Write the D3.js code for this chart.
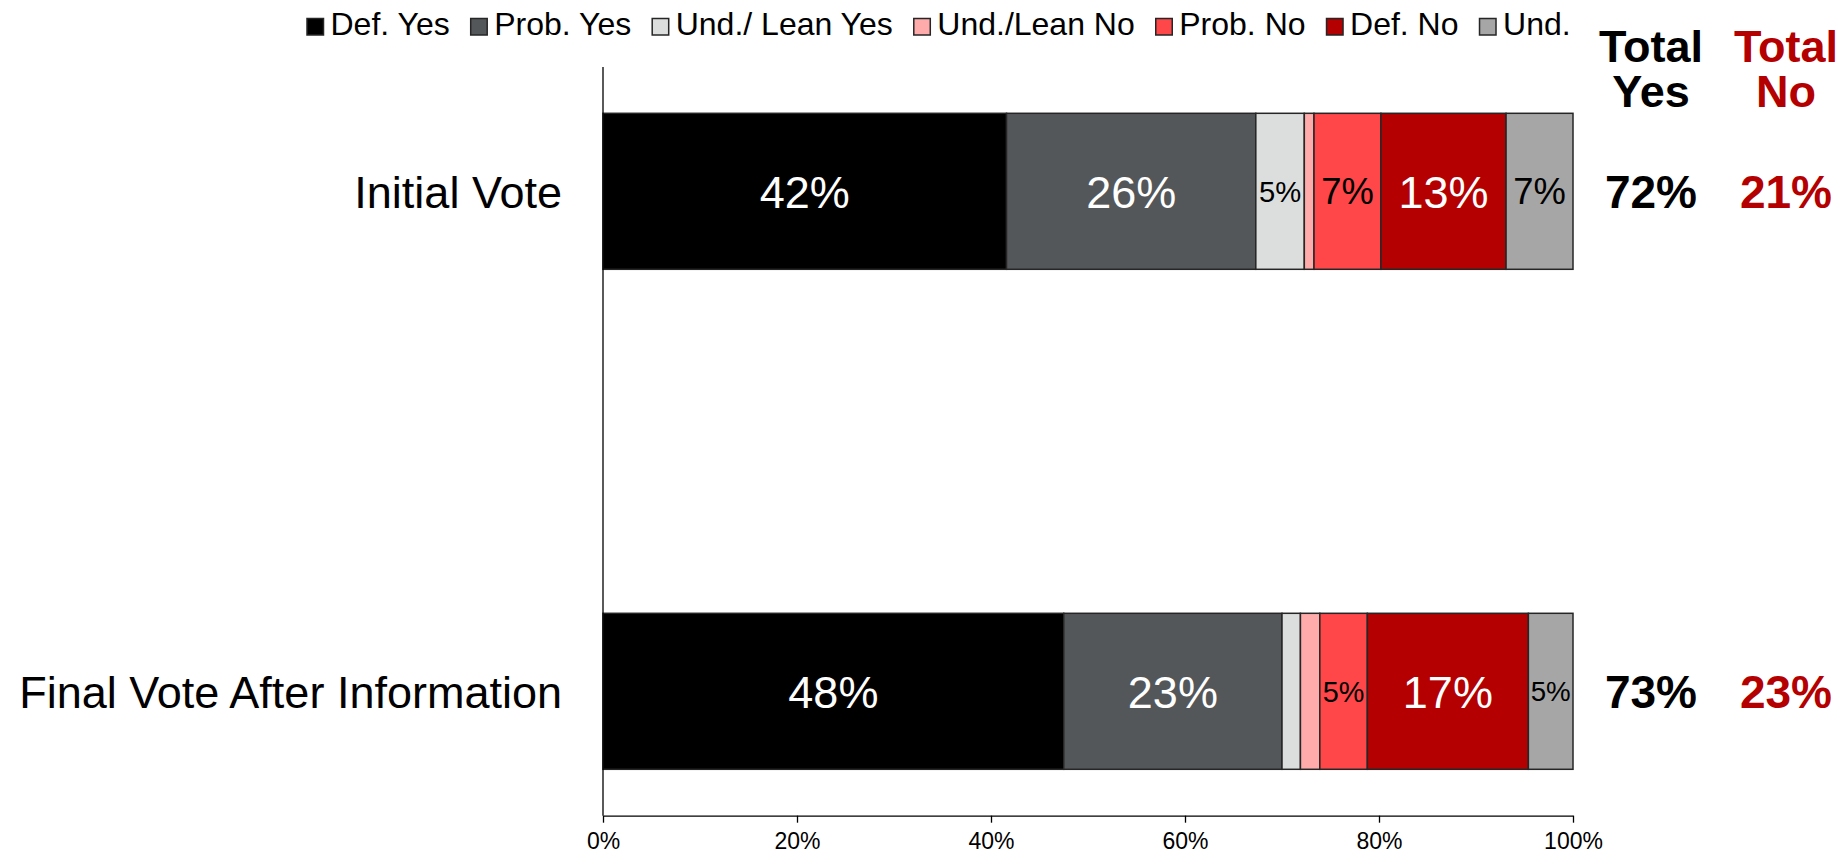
<!DOCTYPE html>
<html>
<head>
<meta charset="utf-8">
<script src="https://cdnjs.cloudflare.com/ajax/libs/d3/7.8.5/d3.min.js"></script>
<style>
  body { margin: 0; background: #fff; }
  svg { display: block; font-family: "Liberation Sans", Arial, sans-serif; }
</style>
</head>
<body>
<svg id="chart" width="1845" height="855"></svg>
<script>
// data (percent of voters)
var categories = ['Initial Vote', 'Final Vote After Information'];
var seriesNames = ['Def. Yes', 'Prob. Yes', 'Und./ Lean Yes', 'Und./Lean No', 'Prob. No', 'Def. No', 'Und.'];
var defYes     = [41.6, 47.5];
var probYes    = [25.7, 22.5];
var undLeanYes = [5.0, 1.9];
var undLeanNo  = [1.0, 2.0];
var probNo     = [6.9, 4.9];
var defNo      = [12.9, 16.6];
var und        = [6.9, 4.6];
var totalYes   = [72, 73];
var totalNo    = [21, 23];
var xTicks     = [0, 20, 40, 60, 80, 100];

var colors = ['#000000', '#54575a', '#dcdedd', '#ffabab', '#ff4649', '#b40000', '#a6a6a6'];
var whiteText = ['Def. Yes', 'Prob. Yes', 'Def. No'];
var red = '#b40000';

var seriesValues = [defYes, probYes, undLeanYes, undLeanNo, probNo, defNo, und];

var rows = categories.map(function (c, i) {
    var r = { cat: c };
    seriesNames.forEach(function (s, j) { r[s] = seriesValues[j][i]; });
    return r;
});

var stacked = d3.stack().keys(seriesNames)(rows);

var svg = d3.select('#chart');

var x = d3.scaleLinear().domain([0, 100]).range([603, 1573]);
var y = d3.scalePoint().domain(categories).range([191.3, 691.3]);
var barH = 156;
var axisTop = 67, axisY = 815.7;

// bars
var layer = svg.append('g').selectAll('g')
    .data(stacked)
    .enter().append('g')
    .attr('fill', function (d, i) { return colors[i]; });

layer.selectAll('rect')
    .data(function (d) { return d.map(function (p) { p.key = d.key; return p; }); })
    .enter().append('rect')
    .attr('x', function (p) { return x(p[0]); })
    .attr('width', function (p) { return x(p[1]) - x(p[0]); })
    .attr('y', function (p) { return y(p.data.cat) - barH / 2; })
    .attr('height', barH)
    .attr('stroke', '#262626')
    .attr('stroke-width', 1.5);

// data labels, shrunk to fit narrow segments
layer.selectAll('text')
    .data(function (d) { return d.filter(function (p) { return Math.round(p[1] - p[0]) >= 5; }); })
    .enter().append('text')
    .attr('x', function (p) { return (x(p[0]) + x(p[1])) / 2; })
    .attr('y', function (p) { return y(p.data.cat); })
    .attr('dy', '0.36em')
    .attr('text-anchor', 'middle')
    .attr('font-size', function (p) {
        var w = x(p[1]) - x(p[0]);
        return Math.min(45, w * 0.39 + 10.3) + 'px';
    })
    .attr('fill', function (p) { return whiteText.indexOf(p.key) >= 0 ? '#fff' : '#000'; })
    .text(function (p) { return Math.round(p[1] - p[0]) + '%'; });

// axes
svg.append('line')
    .attr('x1', x(0)).attr('x2', x(0))
    .attr('y1', axisTop).attr('y2', axisY)
    .attr('stroke', '#000').attr('stroke-width', 1.3);

var xAxis = svg.append('g')
    .attr('transform', 'translate(0,' + axisY + ')')
    .call(d3.axisBottom(x).tickValues(xTicks).tickSize(7).tickSizeOuter(0)
        .tickFormat(function (d) { return d + '%'; }));
xAxis.select('.domain').attr('stroke', '#000').attr('stroke-width', 1.3);
xAxis.selectAll('.tick line').attr('stroke', '#000').attr('stroke-width', 1.3);
xAxis.selectAll('.tick text')
    .attr('font-family', '"Liberation Sans", Arial, sans-serif')
    .attr('font-size', '23px').attr('fill', '#000').attr('y', 17).attr('dy', '0.71em');

// category labels
svg.append('g').selectAll('text')
    .data(categories)
    .enter().append('text')
    .attr('x', 562)
    .attr('y', function (d) { return y(d); })
    .attr('dy', '0.36em')
    .attr('text-anchor', 'end')
    .attr('font-size', '45px')
    .attr('fill', '#000')
    .text(function (d) { return d; });

// totals columns
var totalsCols = [
    { head: ['Total', 'Yes'], vals: totalYes, color: '#000', cx: 1651 },
    { head: ['Total', 'No'], vals: totalNo, color: red, cx: 1786 }
];
totalsCols.forEach(function (col) {
    col.head.forEach(function (t, i) {
        svg.append('text')
            .attr('x', col.cx).attr('y', 61.7 + i * 45.6)
            .attr('text-anchor', 'middle')
            .attr('font-size', '45px').attr('font-weight', 'bold')
            .attr('fill', col.color)
            .text(t);
    });
    svg.append('g').selectAll('text')
        .data(col.vals)
        .enter().append('text')
        .attr('x', col.cx)
        .attr('y', function (d, i) { return y(categories[i]); })
        .attr('dy', '0.36em')
        .attr('text-anchor', 'middle')
        .attr('font-size', '46px').attr('font-weight', 'bold')
        .attr('fill', col.color)
        .text(function (d) { return d + '%'; });
});

// legend
var legend = svg.append('g').attr('font-size', '32px');
var lx = 307;
seriesNames.forEach(function (s, i) {
    legend.append('rect')
        .attr('x', lx).attr('y', 18.5)
        .attr('width', 16.5).attr('height', 16.5)
        .attr('fill', colors[i])
        .attr('stroke', '#262626').attr('stroke-width', 1.5);
    var t = legend.append('text')
        .attr('x', lx + 23.5).attr('y', 35)
        .attr('fill', '#000')
        .text(s);
    lx += 23.5 + t.node().getComputedTextLength() + 21;
});
</script>
</body>
</html>
